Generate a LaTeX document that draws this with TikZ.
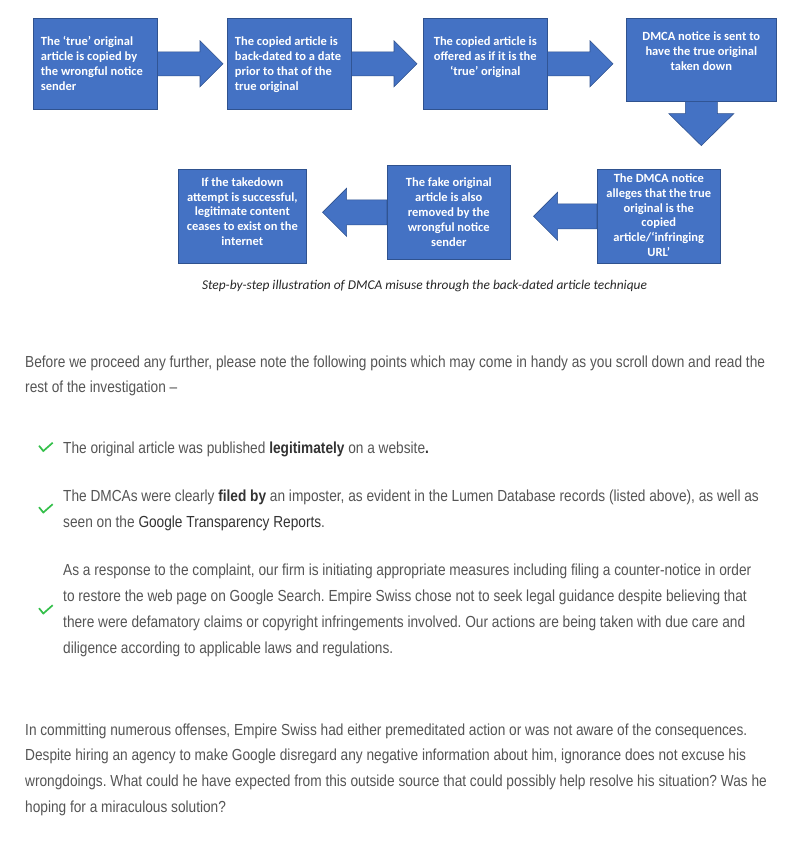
\documentclass[tikz,border=0pt]{standalone}
\usepackage{fontspec}
\setmainfont{Carlito}
\newfontfamily\webfont{Liberation Sans}[FakeStretch=0.855]
\usetikzlibrary{positioning,calc}
\frenchspacing

\definecolor{boxblue}{HTML}{4472C4}
\definecolor{boxedge}{HTML}{2F528F}
\definecolor{webgrey}{HTML}{555555}
\definecolor{webdark}{HTML}{333333}
\definecolor{tickgreen}{HTML}{34C04A}

\newcommand{\webbold}[1]{{\bfseries\color{webdark}#1}}

% block arrow to the right, from the east side of #1 towards #2
\newcommand{\blockright}[3]{%
  \coordinate (#1tip) at ($(#2.west |- #1.east)+(-#3,0)$);
  \draw[blockarrow] ($(#1.east)+(0,-12)$) -- ($(#1tip)+(-23,-12)$) -- ($(#1tip)+(-23,-23)$)
    -- (#1tip) -- ($(#1tip)+(-23,23)$) -- ($(#1tip)+(-23,12)$) -- ($(#1.east)+(0,12)$) -- cycle;}
% block arrow to the left, from the west side of #1 towards #2
\newcommand{\blockleft}[3]{%
  \coordinate (#1tip) at ($(#2.east |- #1.west)+(#3,0)$);
  \draw[blockarrow] ($(#1.west)+(0,-12.5)$) -- ($(#1tip)+(24,-12.5)$) -- ($(#1tip)+(24,-24)$)
    -- (#1tip) -- ($(#1tip)+(24,24)$) -- ($(#1tip)+(24,12.5)$) -- ($(#1.west)+(0,12.5)$) -- cycle;}

\tikzset{
  stepbox/.style={draw=boxedge, fill=boxblue, line width=0.6pt, inner sep=0pt, anchor=north west},
  blockarrow/.style={draw=boxedge, fill=boxblue, line width=0.6pt},
  boxtext/.style={text=white, font=\fontsize{12.5}{14.8}\selectfont\bfseries, inner sep=0pt, align=center},
  caption/.style={text=black!85, font=\fontsize{13.4}{16}\selectfont\itshape, inner sep=0pt, anchor=base},
  webline/.style={text=webgrey, font=\webfont\fontsize{16}{20}\selectfont, inner sep=0pt, anchor=base west},
  tickline/.style={draw=tickgreen, line width=1.7pt},
  checkmark/.pic={\draw[tickline] (-7,-1.3) -- (-2.7,4) -- (6.7,-4.3);}
}

\begin{document}
\begin{tikzpicture}[x=1pt,y=-1pt]
\fill[white] (0,0) rectangle (807,844);
\useasboundingbox (0,0) rectangle (807,844);

% the steps
\node[stepbox, minimum width=124pt, minimum height=91pt] (b1) at (33,18) {};
\node[stepbox, minimum width=124pt, minimum height=91pt] (b2) at (227,18) {};
\node[stepbox, minimum width=124pt, minimum height=91pt] (b3) at (423,18) {};
\node[stepbox, minimum width=150pt, minimum height=83pt] (b4) at (626,18) {};
\node[stepbox, minimum width=123pt, minimum height=94pt] (b5) at (597,169) {};
\node[stepbox, minimum width=123pt, minimum height=94pt] (b6) at (387,165) {};
\node[stepbox, minimum width=128pt, minimum height=94pt] (b7) at (178,169) {};

\foreach \src/\tgt/\gap in {b1/b2/4,b2/b3/6,b3/b4/13}
  {\blockright{\src}{\tgt}{\gap}}
\foreach \src/\tgt/\gap in {b5/b6/23,b6/b7/16}
  {\blockleft{\src}{\tgt}{\gap}}

\coordinate (b4tip) at ($(b4.south)+(0,44)$);
\draw[blockarrow] ($(b4.south)+(-16,0)$) -- ($(b4tip)+(-16,-32)$) -- ($(b4tip)+(-32.5,-32)$)
  -- (b4tip) -- ($(b4tip)+(32.5,-32)$) -- ($(b4tip)+(16,-32)$) -- ($(b4.south)+(16,0)$) -- cycle;

\node[boxtext, align=left, below right=17.4pt and 7.7pt of b1.north west] (t1)
  {\strut The ‘true’ original\\article is copied by\\the wrongful notice\\sender};
\node[boxtext, align=left, below right=17.4pt and 7.7pt of b2.north west] (t2)
  {\strut The copied article is\\back-dated to a date\\prior to that of the\\true original};
\node[boxtext, below=17.4pt of b3.north] (t3)
  {\strut The copied article is\\offered as if it is the\\‘true’ original};
\node[boxtext, below=12.4pt of b4.north] (t4)
  {\strut DMCA notice is sent to\\have the true original\\taken down};
\node[boxtext, below=3pt of b5.north] (t5)
  {\strut The DMCA notice\\alleges that the true\\original is the\\copied\\article/‘infringing\\URL’};
\node[boxtext, below=11.4pt of b6.north] (t6)
  {\strut The fake original\\article is also\\removed by the\\wrongful notice\\sender};
\node[boxtext, below=6.7pt of b7.north] (t7)
  {\strut If the takedown\\attempt is successful,\\legitimate content\\ceases to exist on the\\internet};

\node[caption] (cap) at (424.5,289)
  {Step-by-step illustration of DMCA misuse through the back-dated article technique};

% the page text
\node[webline] (p1) at (25,367) {Before we proceed any further, please note the following points which may come in handy as you scroll down and read the};
\node[webline] (p2) at (25,392) {rest of the investigation –};

\pic at (46,447) {checkmark};
\node[webline] (c1) at (63,453) {The original article was published \webbold{legitimately} on a website\webbold{.}};

\pic at (46,508.5) {checkmark};
\node[webline] (c2a) at (63,501) {The DMCAs were clearly \webbold{filed by} an imposter, as evident in the Lumen Database records (listed above), as well as};
\node[webline] (c2b) at (63,527) {seen on the {\color{webdark}Google Transparency Reports}.};

\pic at (46,609.5) {checkmark};
\node[webline] (c3a) at (63,575) {As a response to the complaint, our firm is initiating appropriate measures including filing a counter-notice in order};
\node[webline] (c3b) at (63,601) {to restore the web page on Google Search. Empire Swiss chose not to seek legal guidance despite believing that};
\node[webline] (c3c) at (63,627) {there were defamatory claims or copyright infringements involved. Our actions are being taken with due care and};
\node[webline] (c3d) at (63,653) {diligence according to applicable laws and regulations.};

\node[webline] (q1) at (25,735) {In committing numerous offenses, Empire Swiss had either premeditated action or was not aware of the consequences.};
\node[webline] (q2) at (25,760) {Despite hiring an agency to make Google disregard any negative information about him, ignorance does not excuse his};
\node[webline] (q3) at (25,786) {wrongdoings. What could he have expected from this outside source that could possibly help resolve his situation? Was he};
\node[webline] (q4) at (25,812) {hoping for a miraculous solution?};
\end{tikzpicture}
\end{document}
